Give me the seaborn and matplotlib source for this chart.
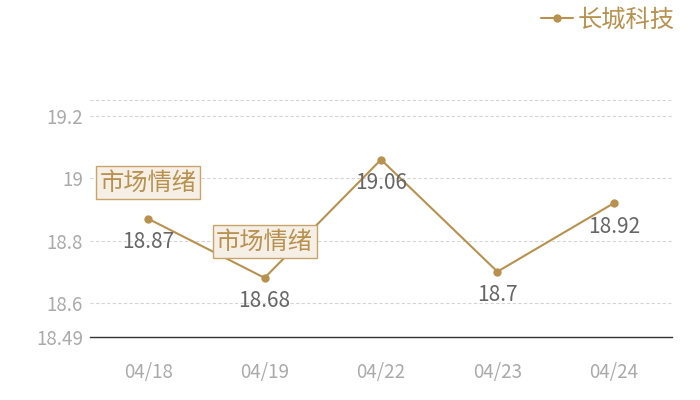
import numpy as np
import pandas as pd
import matplotlib
matplotlib.use('Agg')
import matplotlib.pyplot as plt
import seaborn as sns

# Data
dates = ['04/18', '04/19', '04/22', '04/23', '04/24']
prices = [18.87, 18.68, 19.06, 18.70, 18.92]
series_name = '长城科技'
note_text = '市场情绪'
note_dates = ['04/18', '04/19']
y_ticks = [18.49, 18.6, 18.8, 19.0, 19.2]
y_tick_labels = ['18.49', '18.6', '18.8', '19', '19.2']

sns.set_style('white')
plt.rcParams['font.family'] = ['Noto Sans CJK SC', 'DejaVu Sans']

gold = '#b8914f'
df = pd.DataFrame({'date': dates, 'price': prices})

fig = plt.figure(figsize=(7, 4), dpi=100)
ax = fig.add_axes([90 / 700, 1 - 337 / 400, 582 / 700, 237 / 400])

sns.lineplot(data=df, x='date', y='price', ax=ax, color=gold, lw=1.5,
             marker='o', markersize=6, markeredgewidth=0, label=series_name,
             sort=False)

ax.set_xlim(-0.5, len(dates) - 0.5)
ax.set_ylim(18.49, 19.2516)
ax.set_yticks(y_ticks)
ax.set_yticklabels(y_tick_labels)
for y in [18.6, 18.8, 19.0, 19.2, 19.2516]:
    ax.axhline(y, color='#d5d5d5', lw=0.8, ls=(0, (3, 2)), zorder=0)

for s in ['top', 'right', 'left']:
    ax.spines[s].set_visible(False)
ax.spines['bottom'].set_color('#333333')
ax.spines['bottom'].set_linewidth(1)
ax.tick_params(axis='both', length=0, labelsize=13.5, colors='#aaaaaa')
ax.tick_params(axis='y', pad=5)
ax.tick_params(axis='x', pad=18)
ax.set_xlabel('')
ax.set_ylabel('')

# value labels
for i, v in enumerate(prices):
    ax.annotate(f'{v:g}', (i, v), xytext=(0, -9), textcoords='offset points',
                ha='center', va='top', fontsize=15, color='#666666')

# annotation boxes
for d in note_dates:
    i = dates.index(d)
    ax.annotate(note_text, (i, prices[i]), xytext=(0, 26), textcoords='offset points',
                ha='center', va='center', fontsize=17.5, color=gold, zorder=5,
                bbox=dict(boxstyle='square,pad=0.14', fc='#f5efe6', ec='#c9a46a', lw=1))

leg = ax.legend(loc='upper right', bbox_to_anchor=(677 / 700, 1 - 4 / 400), bbox_transform=fig.transFigure,
                frameon=False, fontsize=17.5, handlelength=1.3, handletextpad=0.2,
                borderaxespad=0.0, borderpad=0.1)
for t in leg.get_texts():
    t.set_color(gold)

fig.savefig('out.png', dpi=100)
